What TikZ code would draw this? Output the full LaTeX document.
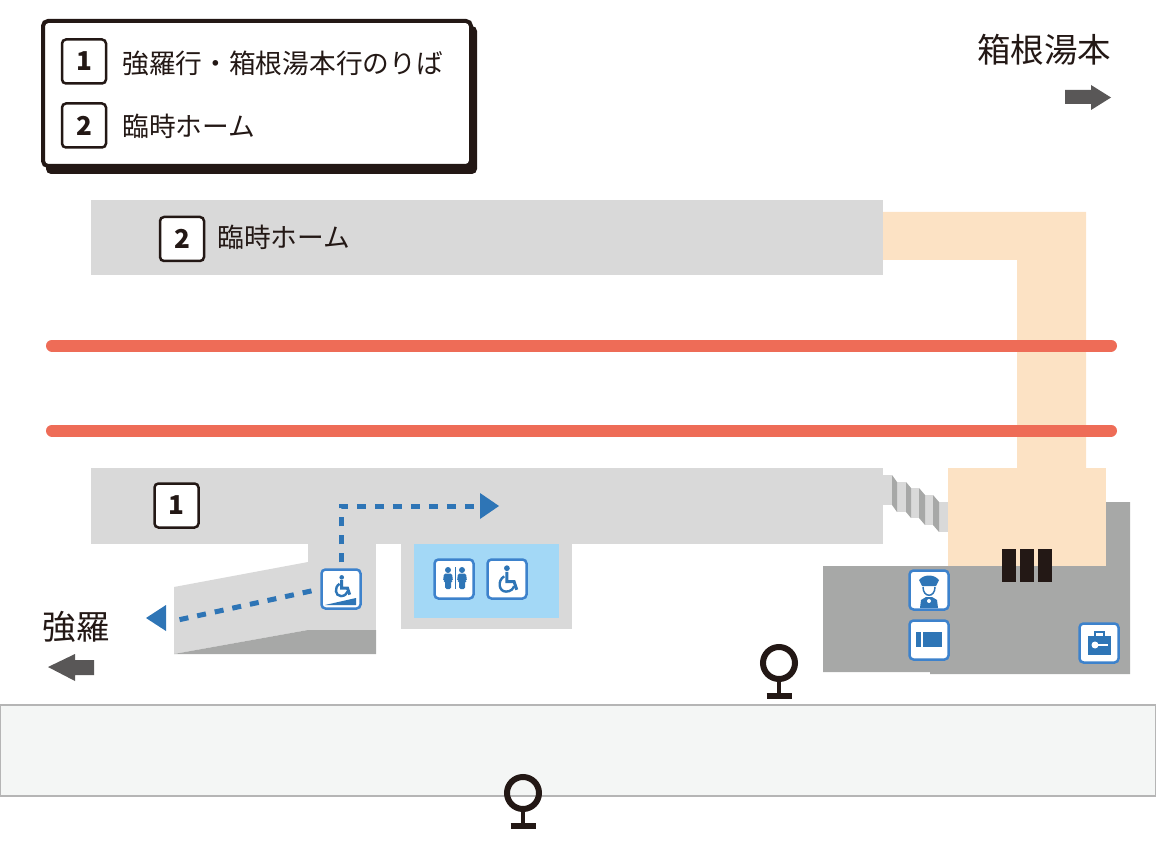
\documentclass[tikz,border=0pt]{standalone}
\usepackage{fontspec}
\setmainfont{Noto Sans CJK JP}
\usetikzlibrary{positioning}
\definecolor{platgray}{HTML}{D9D9D9}
\definecolor{midgray}{HTML}{A7A8A7}
\definecolor{peach}{HTML}{FCE2C4}
\definecolor{railred}{HTML}{EE6C57}
\definecolor{toiletblue}{HTML}{A3D8F6}
\definecolor{iconblue}{HTML}{2E75B6}
\definecolor{iconedge}{HTML}{3D82CC}
\definecolor{inkblack}{HTML}{231815}
\definecolor{arrowgray}{HTML}{595757}
\definecolor{roadfill}{HTML}{F4F6F5}
\definecolor{roadline}{HTML}{B5B5B5}
\tikzset{
  numbox/.style = {draw=inkblack, line width=2.5pt, fill=white, rounded corners=4pt, text=inkblack,
    minimum width=44pt, minimum height=44pt, inner sep=0pt, font=\fontsize{26}{26}\selectfont\bfseries},
  label/.style = {text=inkblack, inner sep=0pt, anchor=west, font=\fontsize{26.7}{27}\selectfont},
  bigtext/.style = {text=inkblack, inner sep=0pt, font=\fontsize{33.5}{34}\selectfont},
  iconbox/.style = {draw=iconedge, line width=2.5pt, fill=white, rounded corners=4pt,
    minimum width=39pt, minimum height=39pt, inner sep=0pt},
  rail/.style = {railred, line width=12pt, line cap=round},
  route/.style = {iconblue, line width=5pt, dash pattern=on 9pt off 9pt},
  pics/chair/.style = {code = {
    \fill [iconblue] (1,-12) circle [radius = 3.2];
    \draw [iconblue, line width=3pt] (1,-8) -- (1,3) -- (9,3) -- (12,12);
    \draw [iconblue, line width=2.4pt] (-2,-3) .. controls (-10,2) and (-8,14) .. (0,14)
      .. controls (5,14) and (8,11) .. (9,8);
  }},
  pics/figure/.style = {code = {
    \fill [iconblue] (0,-8) circle [radius = 3];
    \fill [iconblue, rounded corners=1.5pt] (-4,-4.5) -- (4,-4.5) -- (5,3) -- (3,3) -- (3,11) -- (-3,11) -- (-3,3) -- (-5,3) -- cycle;
  }},
  pics/ring/.style = {code = {
    \draw [inkblack, line width=6pt] (0,0) circle [radius = 16];
    \draw [inkblack, line width=4.5pt] (0,16) -- (0,33);
    \draw [inkblack, line width=6pt] (-12.5,33) -- (12.5,33);
  }}
}
\begin{document}
\begin{tikzpicture}[x=1pt, y=-1pt]
\useasboundingbox (0,0) rectangle (1156,850);
% legend
\fill [inkblack, rounded corners=5pt] (46,26) rectangle (477,174);
\draw [inkblack, line width=4pt, fill=white, rounded corners=5pt] (43,21) rectangle (471,166);
\node [numbox] (legendone) at (84,61.5) {1};
\node [numbox] (legendtwo) at (84,125.5) {2};
\node [label, right=15pt of legendone, yshift=-2pt] (legendonetext) {強羅行・箱根湯本行のりば};
\node [label, right=15pt of legendtwo, yshift=-1pt] (legendtwotext) {臨時ホーム};
% direction labels
\node [bigtext] (hakone) at (1044,50) {箱根湯本};
\node [bigtext] (gora) at (76,627) {強羅};
\fill [arrowgray] (1065,90) -- (1091,90) -- (1091,85) -- (1111,97.5) -- (1091,110) -- (1091,104) -- (1065,104) -- cycle;
\fill [arrowgray] (94,660) -- (75,660) -- (75,654) -- (48,667) -- (75,681) -- (75,675) -- (94,675) -- cycle;
% road
\draw [roadline, line width=1.5pt, fill=roadfill] (0.5,705) rectangle (1155.5,796);
% platforms
\fill [platgray] (91,200) rectangle (883,275);
\fill [platgray] (91,468) rectangle (883,544);
\fill [peach] (883,212) -- (1086,212) -- (1086,470) -- (1017,470) -- (1017,260) -- (883,260) -- cycle;
\node [numbox] (platformtwo) at (182,239) {2};
\node [label, right=12pt of platformtwo, yshift=2pt] (platformtwotext) {臨時ホーム};
\node [numbox] (platformone) at (176.5,505.5) {1};
% rails
\draw [rail] (52,345.5) -- (1111,345.5);
\draw [rail] (52,430.5) -- (1111,430.5);
% ramp
\fill [platgray] (308,544) rectangle (376,630);
\fill [platgray] (174,587) -- (308,562) -- (308,630) -- (174,654) -- cycle;
\fill [midgray] (174,654) -- (308,630) -- (376,630) -- (376,654) -- cycle;
% toilet
\fill [platgray] (401,544) rectangle (572,629);
\fill [toiletblue] (414,544) rectangle (559,618);
% station building
\fill [midgray] (823,566) -- (1106,566) -- (1106,502) -- (1130,502) -- (1130,674) -- (930,674) -- (930,672) -- (823,672) -- cycle;
\fill [peach] (948,468) rectangle (1106,566);
\foreach \xa/\xb/\ya in {883/892/475, 897/906/482, 911/919/488, 925/933/495, 939/948/502} {
  \fill [platgray] (\xa,\ya) rectangle (\xb,\ya+30);
}
\foreach \xa/\xb/\ya/\yb in {892/897/475/482, 906/911/482/488, 919/925/488/495, 933/939/495/502} {
  \fill [midgray] (\xa,\ya) -- (\xb,\yb) -- (\xb,\yb+30) -- (\xa,\ya+30) -- cycle;
}
\foreach \xa in {1002, 1020, 1038} {
  \fill [inkblack] (\xa,549) rectangle (\xa+14,582);
}
% icons
\node [iconbox] (rampicon) at (341,589) {};
\node [iconbox] (toileticon) at (454,579) {};
\node [iconbox] (chairicon) at (507,579) {};
\node [iconbox] (policeicon) at (929,590) {};
\node [iconbox] (ticketicon) at (929,640) {};
\node [iconbox] (lockericon) at (1099,643) {};
\pic [scale=0.72] at (341,586) {chair};
\fill [iconblue] (325,605) -- (356,598) -- (356,605) -- cycle;
\pic [scale=0.9] at (506,579) {chair};
\pic at (448,578) {figure};
\pic at (462,578) {figure};
\draw [iconblue, line width=1pt] (455,567) -- (455,589);
% police
\fill [iconblue] (919,580) .. controls (924,574) and (934,574) .. (939,580) -- (936,586) -- (922,586) -- cycle;
\draw [iconblue, line width=1.5pt] (923,587) .. controls (923,598) and (935,598) .. (935,587);
\fill [iconblue] (920,608) -- (921,600) -- (926,597) -- (932,597) -- (937,600) -- (938,608) -- cycle;
\fill [white] (929,601) circle [radius = 2];
% ticket
\fill [iconblue] (916,632) rectangle (921,647);
\fill [iconblue] (923,632) rectangle (942,647);
% locker
\fill [iconblue] (1088,636) rectangle (1111,655);
\draw [iconblue, line width=1.5pt] (1095,636) -- (1095,632) -- (1104,632) -- (1104,636);
\draw [white, line width=2pt] (1096,645) -- (1108,645);
\fill [white] (1095,645) circle [radius = 3.5];
% route
\coordinate (routeturn) at (341,506);
\coordinate (routeright) at (480,506);
\coordinate (routeleft) at (178,620);
\draw [route, dash phase=12pt] (rampicon.north) -- (routeturn) -- (routeright);
\draw [route, dash phase=9pt] (rampicon.west) -- (routeleft);
\fill [iconblue] (480,493) -- (499,506) -- (480,519) -- cycle;
\fill [iconblue] (166,605) -- (146,618) -- (166,631) -- cycle;
% rings
\pic at (779,663) {ring};
\pic at (523,793) {ring};
\end{tikzpicture}
\end{document}
